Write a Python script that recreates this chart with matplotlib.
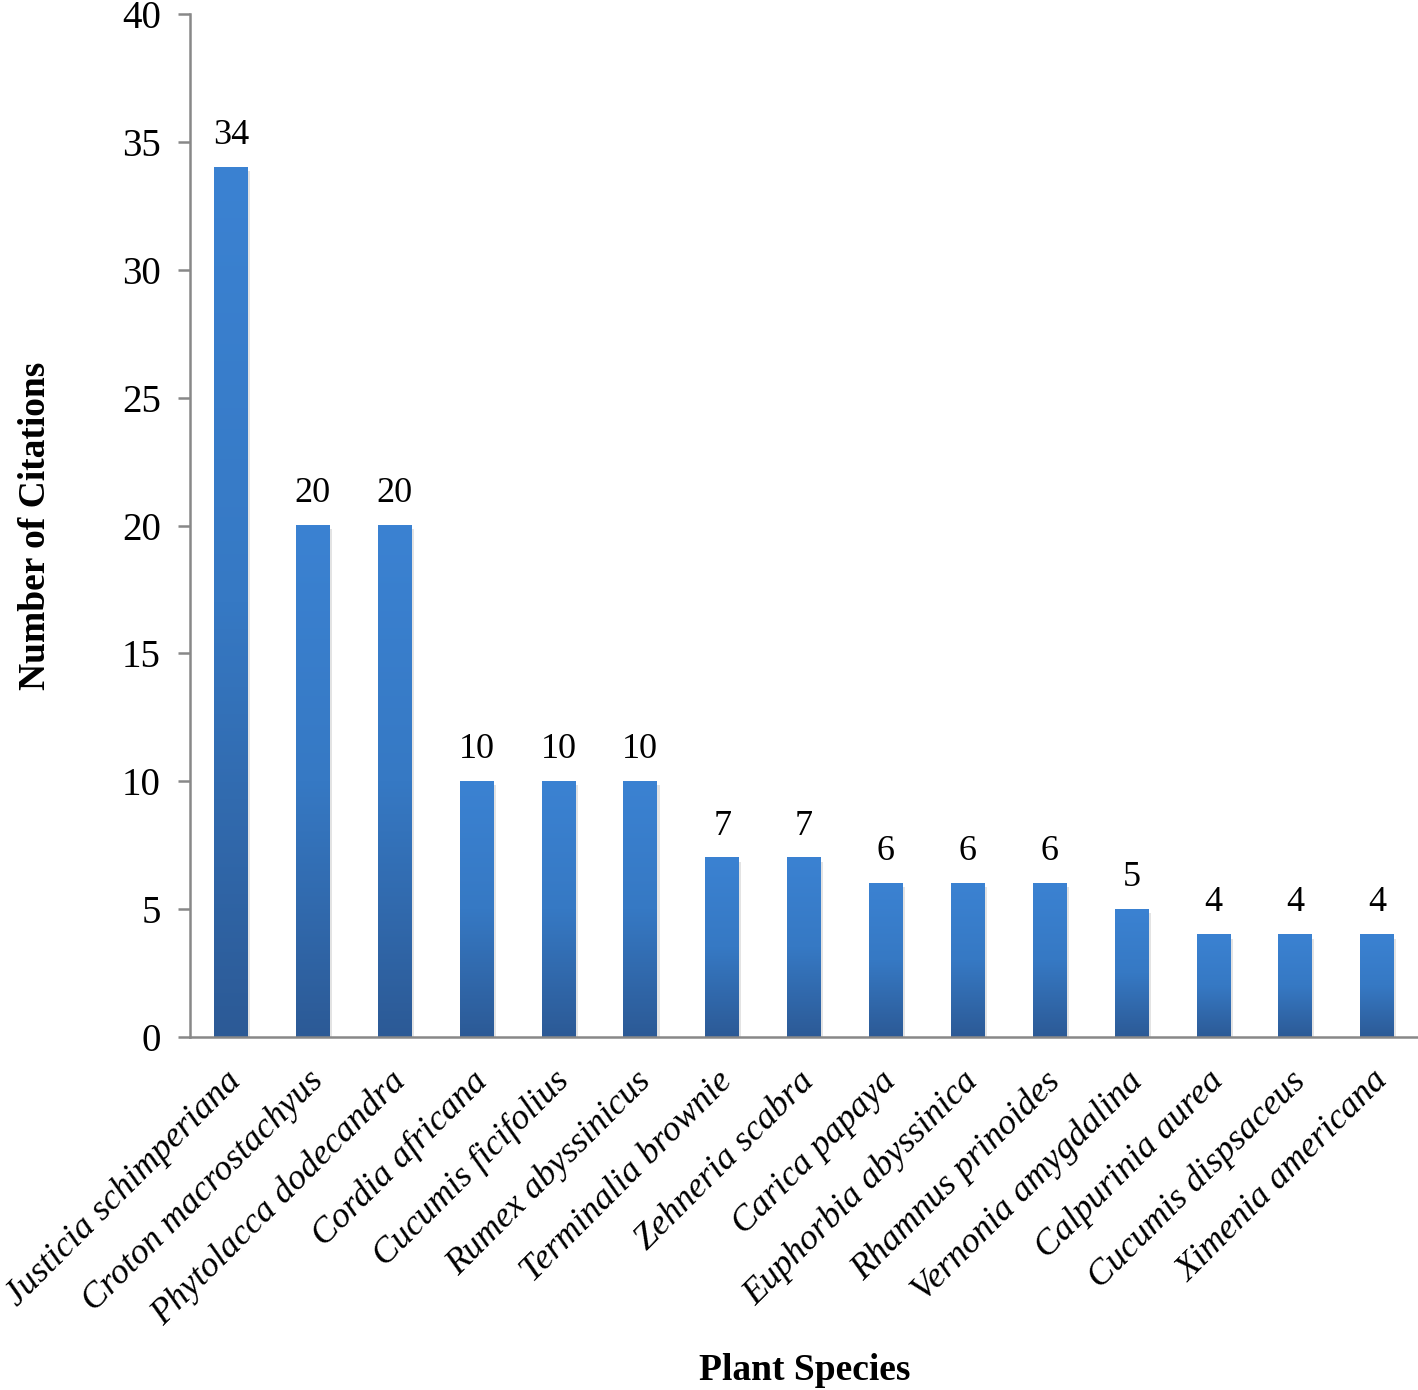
import numpy as np
import matplotlib
matplotlib.use("Agg")
import matplotlib.pyplot as plt
import matplotlib.transforms as mtransforms
from matplotlib.colors import LinearSegmentedColormap

# plant species and number of citations
species = ["Justicia schimperiana", "Croton macrostachyus", "Phytolacca dodecandra",
           "Cordia africana", "Cucumis ficifolius", "Rumex abyssinicus",
           "Terminalia brownie", "Zehneria scabra", "Carica papaya",
           "Euphorbia abyssinica", "Rhamnus prinoides", "Vernonia amygdalina",
           "Calpurinia aurea", "Cucumis dispsaceus", "Ximenia americana"]
citations = [34, 20, 20, 10, 10, 10, 7, 7, 6, 6, 6, 5, 4, 4, 4]
yticks = [0, 5, 10, 15, 20, 25, 30, 35, 40]

plt.rcParams['font.family'] = ['Liberation Serif', 'DejaVu Serif']

W, H = 1418, 1390
fig = plt.figure(figsize=(W / 100, H / 100), dpi=100)
ax = fig.add_axes([190 / W, 1 - 1037 / H, (W - 190) / W, (1037 - 14) / H])

# gradient: bottom dark blue -> top lighter blue
cmap = LinearSegmentedColormap.from_list("bar", ["#2c5a96", "#3679c4", "#3b82d2"])
grad = np.linspace(0, 1, 256).reshape(-1, 1)
bw = 0.41
x = np.arange(len(species))
for xi, v in zip(x, citations):
    # faint shadow
    ax.bar(xi + 0.03, v, width=bw, bottom=-0.15, color="#c8c8c8", alpha=0.5, zorder=1)
    ax.imshow(grad, cmap=cmap, origin="lower", aspect="auto",
              extent=[xi - bw / 2, xi + bw / 2, 0, v], zorder=2)
    ax.text(xi, v + 0.6, str(v), ha="center", va="bottom", fontsize=26)

ax.set_xlim(-0.5, len(species) - 0.5)
ax.set_ylim(0, 40)
ax.set_yticks(yticks)
ax.set_xticks(x)
ax.set_xticklabels(species, rotation=45, ha="right", rotation_mode="anchor",
                   fontsize=26, style="italic")
ax.tick_params(axis="x", length=0, pad=20)
ax.tick_params(axis="y", length=9, width=1.8, color="#888888", labelsize=28, pad=12)
# nudge rotated labels a little to the left
shift = mtransforms.ScaledTranslation(-6 / 100, 0, fig.dpi_scale_trans)
for lab in ax.get_xticklabels():
    lab.set_transform(lab.get_transform() + shift)

for s in ["top", "right"]:
    ax.spines[s].set_visible(False)
for s in ["left", "bottom"]:
    ax.spines[s].set_color("#888888")
    ax.spines[s].set_linewidth(1.8)

fig.text(805 / W, 1 - 1370 / H, "Plant Species", ha="center", va="center",
         fontsize=27, fontweight="bold")
fig.text(36 / W, 1 - 526 / H, "Number of Citations", ha="center", va="center",
         rotation=90, fontsize=27, fontweight="bold")

fig.savefig("out.png", dpi=100)
